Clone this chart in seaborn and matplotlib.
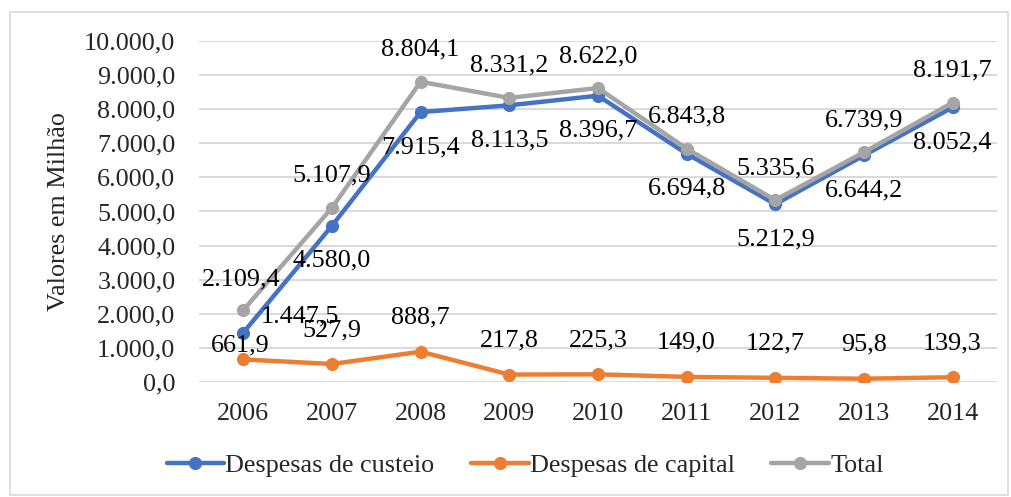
import pandas as pd
import matplotlib.pyplot as plt
import seaborn as sns
from matplotlib.lines import Line2D
from matplotlib.patches import Rectangle
from matplotlib.ticker import FuncFormatter, MultipleLocator

# dados (R$ milhões)
anos = [2006, 2007, 2008, 2009, 2010, 2011, 2012, 2013, 2014]
custeio = [1447.5, 4580.0, 7915.4, 8113.5, 8396.7, 6694.8, 5212.9, 6644.2, 8052.4]
capital = [661.9, 527.9, 888.7, 217.8, 225.3, 149.0, 122.7, 95.8, 139.3]
total = [2109.4, 5107.9, 8804.1, 8331.2, 8622.0, 6843.8, 5335.6, 6739.9, 8191.7]
series = ['Despesas de custeio', 'Despesas de capital', 'Total']
cores = ['#4472C4', '#ED7D31', '#A5A5A5']

df = pd.concat([
    pd.DataFrame({'Ano': anos, 'Valor': custeio, 'Serie': series[0]}),
    pd.DataFrame({'Ano': anos, 'Valor': capital, 'Serie': series[1]}),
    pd.DataFrame({'Ano': anos, 'Valor': total, 'Serie': series[2]}),
])


def br(v, pos=None):
    return f'{v:,.1f}'.replace(',', 'X').replace('.', ',').replace('X', '.')


sns.set_style('white')
plt.rcParams['font.family'] = ['Liberation Serif', 'DejaVu Serif']
fs = 18.8

fig = plt.figure(figsize=(10.12, 4.97), dpi=100)
ax = fig.add_axes([0.1966, 0.2314, 0.7885, 0.6861])

sns.lineplot(data=df, x='Ano', y='Valor', hue='Serie', hue_order=series,
             palette=cores, marker='o', markersize=9.5, markeredgewidth=0,
             linewidth=3.2, legend=False, ax=ax)

ax.set_xlim(2005.5, 2014.5)
ax.set_ylim(0, 10000)
ax.set_xticks(anos)
ax.set_xticklabels([str(a) for a in anos])
ax.yaxis.set_major_locator(MultipleLocator(1000))
ax.yaxis.set_major_formatter(FuncFormatter(br))
ax.tick_params(axis='x', labelsize=fs, pad=15, length=0)
ax.tick_params(axis='y', labelsize=fs, pad=17, length=0)
ax.set_xlabel('')
ax.set_ylabel('Valores em Milhão', fontsize=fs)
ax.yaxis.set_label_coords(-0.162, 0.5)
ax.yaxis.grid(True, color='#D9D9D9', linewidth=1.4)
ax.xaxis.grid(False)
ax.set_axisbelow(True)
for s in ax.spines.values():
    s.set_visible(False)

# rótulos de dados (deslocamentos em px)
offsets = {
    series[0]: [(57, 16)] + [(0, -35)] * 8,
    series[1]: [(-3, 14)] + [(0, 34)] * 8,
    series[2]: [(-2, 31)] + [(0, 32)] * 8,
}
for nome, vals in zip(series, [custeio, capital, total]):
    for a, v, (dx, dy) in zip(anos, vals, offsets[nome]):
        ax.annotate(br(v), (a, v), xytext=(dx * 0.72, dy * 0.72),
                    textcoords='offset points', ha='center', va='center',
                    fontsize=fs, color='black')

handles = [Line2D([], [], color=c, linewidth=3.2, marker='o', markersize=9.5,
                  markeredgewidth=0) for c in cores]
fig.legend(handles, series, loc='center', bbox_to_anchor=(0.519, 0.064),
           ncol=3, frameon=False, fontsize=fs, handlelength=2.2,
           handletextpad=0.05, columnspacing=1.4)

fig.patches.append(Rectangle((10 / 1012, 2 / 497), 998 / 1012, 483 / 497,
                             transform=fig.transFigure, fill=False,
                             edgecolor='#D9D9D9', linewidth=1.2))

fig.savefig('out.png', dpi=100)
